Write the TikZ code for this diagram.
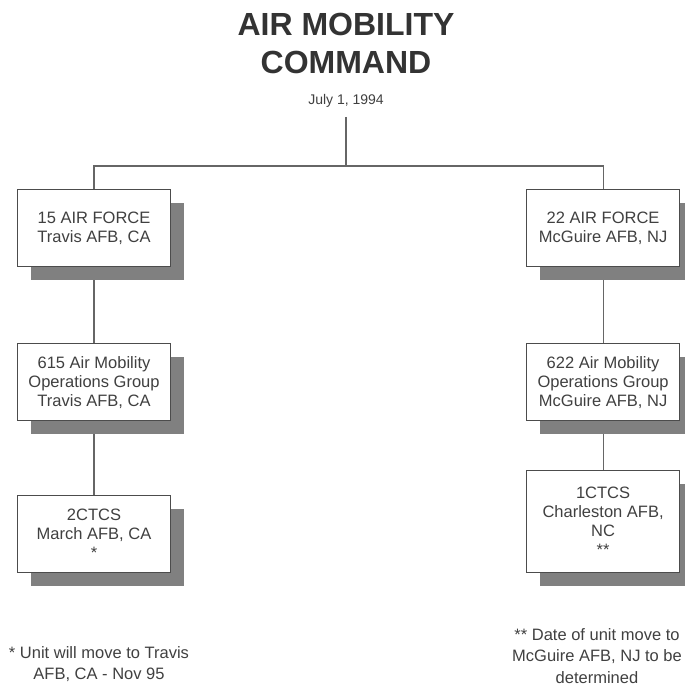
\documentclass[tikz,border=0pt]{standalone}
\usepackage{fontspec}
\setmainfont{Liberation Sans}
\usetikzlibrary{positioning, shadows, backgrounds}

\begin{document}
\begin{tikzpicture}[
  x=1pt, y=1pt,
  font=\fontsize{16.5}{19}\selectfont,
  unit/.style={rectangle, draw=black!70, line width=1.1pt, fill=white, text=black!75, align=center, minimum width=153pt, minimum height=77pt, inner sep=2pt, drop shadow={shadow xshift=13pt, shadow yshift=-13pt, fill=black!50, opacity=1}},
  note/.style={align=center, text=black!75, font=\fontsize{16.5}{21.5}\selectfont},
  link/.style={draw=black!60, line width=1.1pt},
  node distance=76pt and 355pt
]
  \useasboundingbox (0,0) rectangle (685,-686);

  \node[align=center, text=black!80, font=\fontsize{32}{38}\selectfont\bfseries] (title) at (346,-43) {AIR MOBILITY\\COMMAND};
  \node[text=black!75, font=\fontsize{14}{17}\selectfont, below=14pt of title] (date) {July 1, 1994};
  \coordinate[below=55pt of date.south] (hub);

  \node[unit] (af15) at (94,-228) {15 AIR FORCE\\Travis AFB, CA};
  \node[unit, below=of af15] (amog615) {615 Air Mobility\\Operations Group\\Travis AFB, CA};
  \node[unit, below=74pt of amog615] (ctcs2) {2CTCS\\March AFB, CA\\*};

  \node[unit, right=of af15] (af22) {22 AIR FORCE\\McGuire AFB, NJ};
  \node[unit, below=of af22] (amog622) {622 Air Mobility\\Operations Group\\McGuire AFB, NJ};
  \node[unit, minimum height=102pt, below=49pt of amog622] (ctcs1) {1CTCS\\Charleston AFB,\\NC\\**};

  \node[note] (note1) at (99,-664) {* Unit will move to Travis\\AFB, CA - Nov 95};
  \node[note] (note2) at (597,-656) {** Date of unit move to\\McGuire AFB, NJ to be\\determined};

  \begin{scope}[on background layer]
    \draw[link, shorten <=6pt] (date) -- (hub);
    \draw[link] (af15) |- (hub) -| (af22);
    \draw[link] (af15) -- (amog615);
    \draw[link] (amog615) -- (ctcs2);
    \draw[link] (af22) -- (amog622);
    \draw[link] (amog622) -- (ctcs1);
  \end{scope}
\end{tikzpicture}
\end{document}
